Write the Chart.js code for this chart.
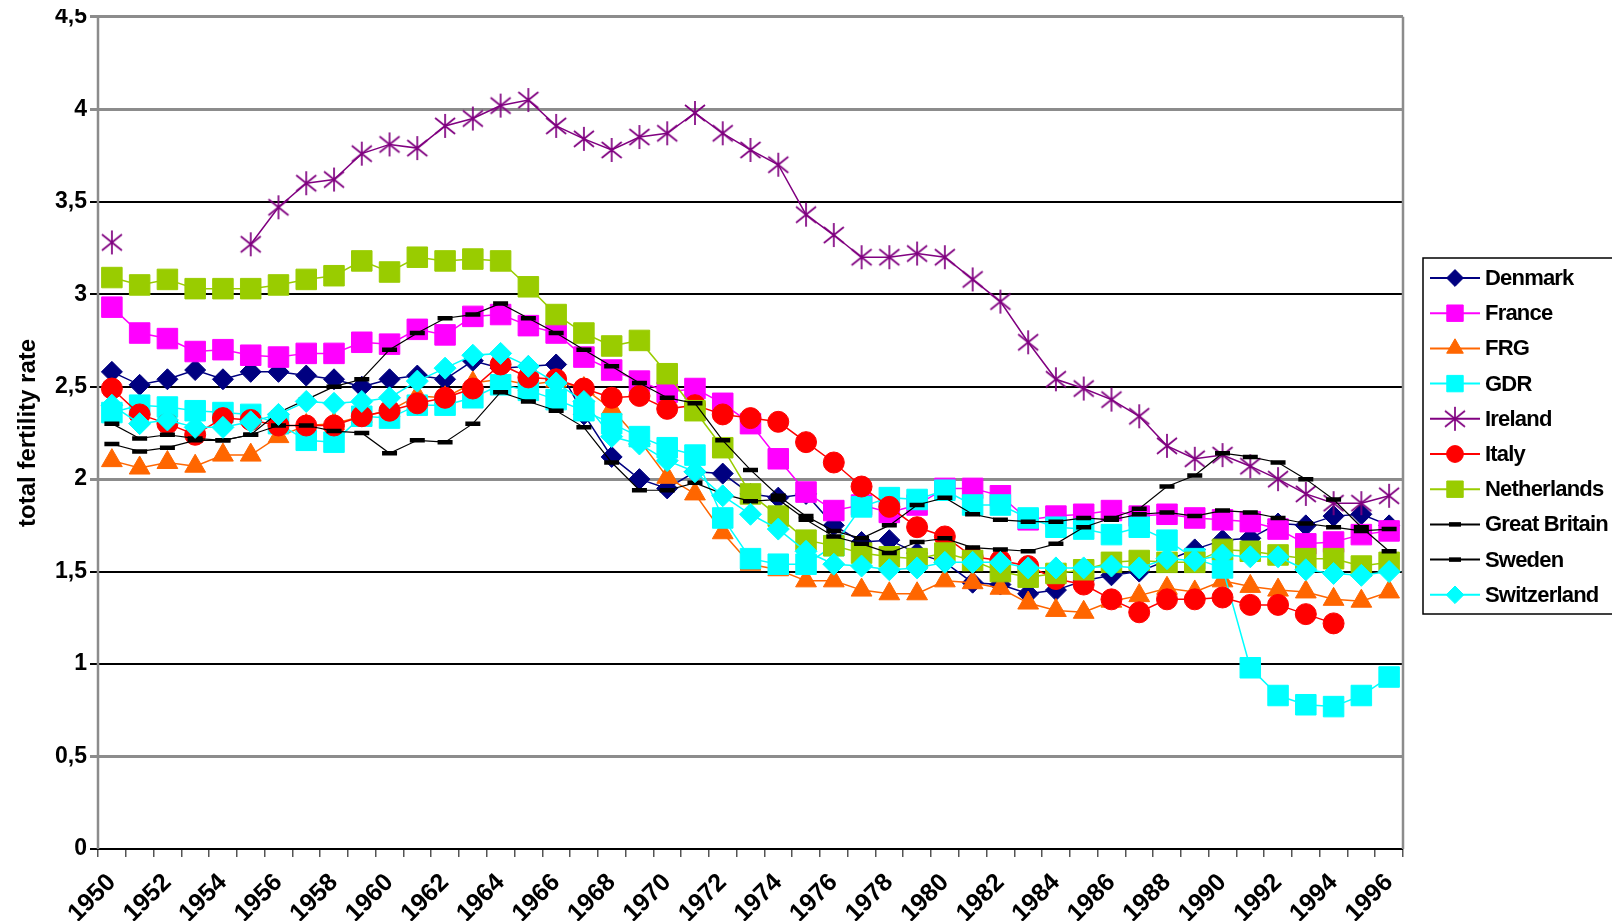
<!DOCTYPE html>
<html>
  <head>
    <title>Total fertility rate</title>
    <script src="https://cdn.jsdelivr.net/npm/chart.js"></script>
    <style>
      body {
        margin: 0;
        background: #fff;
      }
      .chart-container {
        position: relative;
        width: 1612px;
        height: 921px;
      }
    </style>
  </head>
  <body>
    <div class="chart-container">
      <canvas id="graph"></canvas>
    </div>
    <script>
      const years = [
        "1950", "1951", "1952", "1953", "1954", "1955", "1956", "1957", "1958", "1959",
        "1960", "1961", "1962", "1963", "1964", "1965", "1966", "1967", "1968", "1969",
        "1970", "1971", "1972", "1973", "1974", "1975", "1976", "1977", "1978", "1979",
        "1980", "1981", "1982", "1983", "1984", "1985", "1986", "1987", "1988", "1989",
        "1990", "1991", "1992", "1993", "1994", "1995", "1996",
      ];

      const denmark = [
        2.58, 2.51, 2.54, 2.59, 2.54, 2.58, 2.58, 2.56, 2.54, 2.5,
        2.54, 2.56, 2.54, 2.64, 2.6, 2.61, 2.62, 2.35, 2.12, 2.0,
        1.95, 2.04, 2.03, 1.92, 1.9, 1.92, 1.75, 1.66, 1.67, 1.6,
        1.55, 1.44, 1.43, 1.38, 1.4, 1.45, 1.48, 1.5, 1.56, 1.62,
        1.67, 1.68, 1.76, 1.75, 1.8, 1.81, 1.75,
      ];
      const france = [
        2.93, 2.79, 2.76, 2.69, 2.7, 2.67, 2.66, 2.68, 2.68, 2.74,
        2.73, 2.81, 2.78, 2.88, 2.89, 2.83, 2.79, 2.66, 2.59, 2.53,
        2.47, 2.49, 2.41, 2.3, 2.11, 1.93, 1.83, 1.86, 1.82, 1.86,
        1.95, 1.95, 1.91, 1.78, 1.8, 1.81, 1.83, 1.8, 1.81, 1.79,
        1.78, 1.77, 1.73, 1.65, 1.66, 1.7, 1.72,
      ];
      const frg = [
        2.1, 2.06, 2.09, 2.07, 2.13, 2.13, 2.23, 2.29, 2.3, 2.34,
        2.37, 2.45, 2.44, 2.52, 2.54, 2.51, 2.53, 2.49, 2.38, 2.21,
        2.01, 1.92, 1.71, 1.54, 1.51, 1.45, 1.45, 1.4, 1.38, 1.38,
        1.45, 1.44, 1.41, 1.33, 1.29, 1.28, 1.34, 1.37, 1.41, 1.39,
        1.45, 1.42, 1.4, 1.39, 1.35, 1.34, 1.39,
      ];
      const gdr = [
        2.36, 2.4, 2.39, 2.37, 2.36, 2.35, 2.3, 2.21, 2.2, 2.34,
        2.33, 2.4, 2.4, 2.44, 2.51, 2.48, 2.43, 2.37, 2.3, 2.23,
        2.17, 2.13, 1.79, 1.57, 1.54, 1.54, 1.64, 1.85, 1.9, 1.89,
        1.94, 1.86, 1.86, 1.79, 1.74, 1.73, 1.7, 1.74, 1.67, 1.57,
        1.52, 0.98, 0.83, 0.78, 0.77, 0.83, 0.93,
      ];
      const ireland = [
        3.28, null, null, null, null, 3.27, 3.47, 3.6, 3.62, 3.76,
        3.81, 3.79, 3.91, 3.95, 4.02, 4.05, 3.91, 3.84, 3.78, 3.85,
        3.87, 3.98, 3.87, 3.78, 3.7, 3.43, 3.32, 3.2, 3.2, 3.22,
        3.2, 3.08, 2.96, 2.74, 2.54, 2.49, 2.43, 2.34, 2.18, 2.11,
        2.13, 2.07, 2.0, 1.92, 1.87, 1.87, 1.91,
      ];
      const italy = [
        2.49, 2.35, 2.3, 2.24, 2.33, 2.32, 2.29, 2.29, 2.29, 2.34,
        2.37, 2.41, 2.44, 2.49, 2.62, 2.55, 2.54, 2.49, 2.44, 2.45,
        2.38, 2.4, 2.35, 2.33, 2.31, 2.2, 2.09, 1.96, 1.85, 1.74,
        1.69, 1.58, 1.56, 1.53, 1.46, 1.43, 1.35, 1.28, 1.35, 1.35,
        1.36, 1.32, 1.32, 1.27, 1.22, null, null,
      ];
      const netherlands = [
        3.09, 3.05, 3.08, 3.03, 3.03, 3.03, 3.05, 3.08, 3.1, 3.18,
        3.12, 3.2, 3.18, 3.19, 3.18, 3.04, 2.89, 2.79, 2.72, 2.75,
        2.57, 2.37, 2.17, 1.92, 1.8, 1.67, 1.64, 1.6, 1.58, 1.57,
        1.6, 1.56, 1.5, 1.47, 1.49, 1.51, 1.55, 1.56, 1.55, 1.55,
        1.62, 1.61, 1.59, 1.57, 1.57, 1.53, 1.55,
      ];
      const greatBritain = [
        2.19, 2.15, 2.17, 2.21, 2.21, 2.24, 2.36, 2.43, 2.5, 2.54,
        2.7, 2.79, 2.87, 2.89, 2.95, 2.87, 2.79, 2.7, 2.61, 2.52,
        2.44, 2.41, 2.21, 2.05, 1.91, 1.8, 1.72, 1.68, 1.75, 1.86,
        1.9, 1.81, 1.78, 1.77, 1.77, 1.79, 1.78, 1.81, 1.82, 1.8,
        1.83, 1.82, 1.79, 1.76, 1.74, 1.72, 1.73,
      ];
      const sweden = [
        2.3, 2.22, 2.24, 2.22, 2.21, 2.24, 2.29, 2.29, 2.26, 2.25,
        2.14, 2.21, 2.2, 2.3, 2.47, 2.42, 2.37, 2.28, 2.09, 1.94,
        1.94, 1.98, 1.92, 1.88, 1.89, 1.78, 1.69, 1.65, 1.6, 1.66,
        1.68, 1.63, 1.62, 1.61, 1.65, 1.74, 1.79, 1.84, 1.96, 2.02,
        2.14, 2.12, 2.09, 2.0, 1.89, 1.74, 1.61,
      ];
      const switzerland = [
        2.4, 2.3, 2.32, 2.28, 2.28, 2.31, 2.35, 2.42, 2.41, 2.42,
        2.44, 2.53, 2.6, 2.67, 2.68, 2.61, 2.52, 2.42, 2.23, 2.19,
        2.1, 2.04, 1.91, 1.81, 1.73, 1.61, 1.54, 1.53, 1.51, 1.52,
        1.55, 1.55, 1.55, 1.52, 1.52, 1.52, 1.53, 1.52, 1.57, 1.56,
        1.59, 1.58, 1.58, 1.51, 1.49, 1.48, 1.5,
      ];

      const FONT = "'Liberation Sans', Arial, sans-serif";
      Chart.defaults.font.family = FONT;
      Chart.defaults.color = "#000";

      // excel style asterisk: an X with a vertical bar
      function asterisk(color) {
        const c = document.createElement("canvas");
        c.width = 28;
        c.height = 28;
        const g = c.getContext("2d");
        g.strokeStyle = color;
        g.lineWidth = 1.7;
        g.beginPath();
        g.moveTo(14, 2);
        g.lineTo(14, 26);
        g.moveTo(4, 6);
        g.lineTo(24, 22);
        g.moveTo(24, 6);
        g.lineTo(4, 22);
        g.stroke();
        return c;
      }

      function series(label, data, color, style, radius, extra) {
        return Object.assign(
          {
            label: label,
            data: data,
            borderColor: color,
            backgroundColor: color,
            borderWidth: 1.5,
            pointStyle: style,
            pointRadius: radius,
            pointBorderWidth: 1,
            pointBackgroundColor: color,
            pointBorderColor: color,
            spanGaps: false,
            tension: 0,
          },
          extra || {}
        );
      }

      const datasets = [
        series("Denmark", denmark, "#000080", "rectRot", 10.5),
        series("France", france, "#ff00ff", "rect", 14.5),
        series("FRG", frg, "#ff6600", "triangle", 12),
        series("GDR", gdr, "#00ffff", "rect", 14.5),
        series("Ireland", ireland, "#800080", asterisk("#800080"), 13),
        series("Italy", italy, "#ff0000", "circle", 10.5),
        series("Netherlands", netherlands, "#99cc00", "rect", 14.5),
        series("Great Britain", greatBritain, "#000000", "line", 7.5, {
          borderWidth: 1.2,
          pointBorderWidth: 4.5,
        }),
        series("Sweden", sweden, "#000000", "line", 7.5, {
          borderWidth: 1.2,
          pointBorderWidth: 4.5,
        }),
        series("Switzerland", switzerland, "#00ffff", "rectRot", 11),
      ];
      // later series are painted on top, as in the original
      datasets.forEach((d, i) => (d.order = datasets.length - 1 - i));

      const plotBorder = {
        id: "plotBorder",
        beforeDatasetsDraw(chart) {
          const a = chart.chartArea;
          const ctx = chart.ctx;
          ctx.save();
          ctx.strokeStyle = "#8c8c8c";
          ctx.lineWidth = 2.5;
          ctx.beginPath();
          ctx.moveTo(a.left, a.bottom);
          ctx.lineTo(a.left, a.top);
          ctx.moveTo(a.right, a.top);
          ctx.lineTo(a.right, a.bottom);
          ctx.stroke();
          ctx.restore();
        },
      };

      const boxLegend = {
        id: "boxLegend",
        afterDraw(chart) {
          const ctx = chart.ctx;
          const x0 = 1423,
            y0 = 258,
            w = 220,
            h = 356;
          ctx.save();
          // the source picture is cropped just above the top tick label
          ctx.fillStyle = "#fff";
          ctx.fillRect(0, 0, chart.chartArea.left - 1, 9);
          ctx.fillRect(x0, y0, w, h);
          ctx.strokeStyle = "#000";
          ctx.lineWidth = 1.5;
          ctx.strokeRect(x0, y0, w, h);
          chart.data.datasets.forEach((ds, i) => {
            const y = y0 + 20 + i * 35.2;
            ctx.strokeStyle = ds.borderColor;
            ctx.lineWidth = 2;
            ctx.beginPath();
            ctx.moveTo(x0 + 7, y);
            ctx.lineTo(x0 + 57, y);
            ctx.stroke();
            ctx.fillStyle = ds.pointBackgroundColor;
            ctx.strokeStyle = ds.pointBorderColor;
            ctx.lineWidth = ds.pointBorderWidth;
            const r = typeof ds.pointStyle === "string" ? ds.pointRadius * 0.8 : 0;
            Chart.helpers.drawPoint(
              ctx,
              {
                pointStyle: ds.pointStyle,
                radius: r,
                rotation: 0,
                borderWidth: ds.pointBorderWidth,
              },
              x0 + 32,
              y
            );
            ctx.fillStyle = "#000";
            ctx.font = "bold 22px " + FONT;
            if ("letterSpacing" in ctx) ctx.letterSpacing = "-0.8px";
            ctx.textBaseline = "middle";
            ctx.textAlign = "left";
            ctx.fillText(ds.label, x0 + 62, y + 1);
          });
          ctx.restore();
        },
      };

      const greyLines = [4.5, 4, 2, 0.5];

      new Chart(document.getElementById("graph").getContext("2d"), {
        type: "line",
        data: { labels: years, datasets: datasets },
        plugins: [plotBorder, boxLegend],
        options: {
          responsive: true,
          maintainAspectRatio: false,
          animation: false,
          layout: { padding: { top: 10, right: 209, left: 0, bottom: 0 } },
          plugins: {
            legend: { display: false },
            tooltip: { enabled: false },
          },
          scales: {
            x: {
              offset: true,
              border: { display: false },
              grid: {
                offset: true,
                drawOnChartArea: false,
                drawTicks: true,
                tickLength: 8,
                color: "#555",
                lineWidth: 1.5,
              },
              ticks: {
                autoSkip: false,
                minRotation: 45,
                maxRotation: 45,
                padding: 11,
                color: "#000",
                font: { size: 25, weight: "bold" },
                callback: function (val, index) {
                  return index % 2 === 0 ? this.getLabelForValue(val) : "";
                },
              },
              afterFit: (s) => {
                s.height = 72;
              },
            },
            y: {
              min: 0,
              max: 4.5,
              border: { display: false },
              grid: {
                color: (c) => (greyLines.includes(c.tick.value) ? "#8c8c8c" : "#000"),
                lineWidth: (c) => (greyLines.includes(c.tick.value) ? 3 : 2),
                tickLength: 8,
              },
              ticks: {
                stepSize: 0.5,
                padding: 3,
                color: "#000",
                font: { size: 23, weight: "bold" },
                callback: (v) => String(v).replace(".", ","),
              },
              title: {
                display: true,
                text: "total fertility rate",
                color: "#000",
                font: { size: 24, weight: "bold" },
                padding: { top: 14, bottom: 0 },
              },
              afterFit: (s) => {
                s.width = 98;
              },
            },
          },
        },
      });
    </script>
  </body>
</html>
